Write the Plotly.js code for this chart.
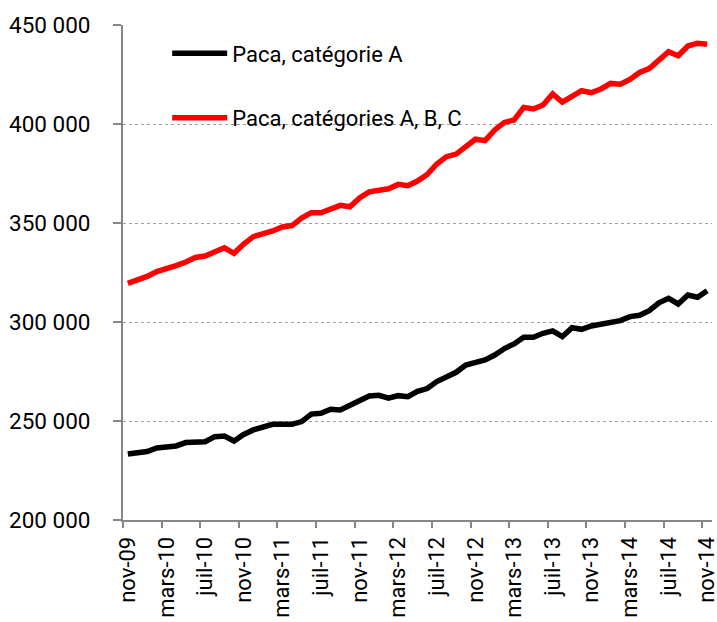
<!DOCTYPE html>
<html>
<head>
<meta charset="utf-8">
<script src="https://cdn.plot.ly/plotly-3.0.1.min.js"></script>
<style>
  html, body { margin: 0; padding: 0; background: #fff; }
  #chart { width: 717px; height: 622px; }
</style>
</head>
<body>
<div id="chart"></div>
<script>
// Months, nov-09 to nov-14
const months = [
  'nov-09', 'déc-09',
  'janv-10', 'févr-10', 'mars-10', 'avr-10', 'mai-10', 'juin-10', 'juil-10', 'août-10', 'sept-10', 'oct-10', 'nov-10', 'déc-10',
  'janv-11', 'févr-11', 'mars-11', 'avr-11', 'mai-11', 'juin-11', 'juil-11', 'août-11', 'sept-11', 'oct-11', 'nov-11', 'déc-11',
  'janv-12', 'févr-12', 'mars-12', 'avr-12', 'mai-12', 'juin-12', 'juil-12', 'août-12', 'sept-12', 'oct-12', 'nov-12', 'déc-12',
  'janv-13', 'févr-13', 'mars-13', 'avr-13', 'mai-13', 'juin-13', 'juil-13', 'août-13', 'sept-13', 'oct-13', 'nov-13', 'déc-13',
  'janv-14', 'févr-14', 'mars-14', 'avr-14', 'mai-14', 'juin-14', 'juil-14', 'août-14', 'sept-14', 'oct-14', 'nov-14'
];

// Catégorie A
const catA = [
  233300, 233800, 234600, 236400, 236600, 237400, 239100, 239500, 239500, 242100,
  242400, 239900, 243200, 245500, 247000, 248300, 248300, 248300, 249700, 253500,
  253900, 255900, 255600, 257700, 260100, 262600, 263000, 261500, 262800, 262300,
  265000, 266400, 269900, 272400, 274600, 278300, 279900, 280800, 283300, 286600,
  288900, 292300, 292300, 294300, 295500, 292600, 297100, 296300, 298000, 299000,
  299300, 300700, 302700, 303400, 305700, 309700, 312000, 309100, 313600, 312500,
  315800
];

// Catégories A, B, C
const catABC = [
  319500, 321200, 323000, 325500, 326800, 328500, 330300, 332600, 333300, 335400,
  337500, 334700, 339400, 343100, 344400, 346000, 348000, 348700, 352500, 355200,
  355200, 357300, 358900, 358200, 362600, 365700, 366200, 367300, 369500, 368800,
  371200, 374500, 379800, 383500, 384800, 388900, 392300, 391600, 397000, 400800,
  402000, 408400, 407600, 409600, 415200, 411000, 413800, 416800, 415800, 417700,
  420500, 420100, 422500, 426000, 428000, 432100, 436500, 434500, 439400, 440800,
  440300
];

const seriesNames = ['Paca, catégorie A', 'Paca, catégories A, B, C'];

const xIdx = months.map((m, i) => i);
const labelIdx = xIdx.filter(i => i % 4 === 0);

const font = "Roboto, 'Open Sans', Arial, sans-serif";
const axisGrey = '#868686';

const traces = [
  {
    x: xIdx, y: catA, mode: 'lines', name: seriesNames[0], legendgroup: 'a',
    line: {color: '#000000', width: 5.5}
  },
  {
    x: xIdx, y: catABC, mode: 'lines', name: seriesNames[1], legendgroup: 'b',
    line: {color: '#ff0000', width: 5.5}
  }
];

const layout = {
  width: 717,
  height: 622,
  margin: {l: 123, r: 5, t: 25, b: 102},
  paper_bgcolor: '#fff',
  plot_bgcolor: '#fff',
  separators: ', ',
  font: {family: font, color: '#000'},
  showlegend: true,
  legend: {
    x: 0.075, y: 0.985, xanchor: 'left', yanchor: 'top',
    bgcolor: 'rgba(0,0,0,0)',
    font: {size: 22, family: font, color: '#000'},
    traceorder: 'grouped',
    tracegroupgap: 33,
    itemwidth: 55
  },
  xaxis: {
    range: [-0.5, 60.5],
    showgrid: false,
    zeroline: false,
    showline: true,
    linecolor: axisGrey,
    linewidth: 2,
    tickmode: 'array',
    tickvals: labelIdx,
    ticktext: labelIdx.map(i => months[i]),
    ticks: '',
    tickangle: -90,
    ticklabelstandoff: 6,
    ticklabeloverflow: 'allow',
    tickfont: {size: 22, family: font, color: '#000'},
    minor: {
      tickmode: 'linear', tick0: -0.5, dtick: 4,
      ticks: 'outside', ticklen: 6, tickwidth: 2, tickcolor: axisGrey,
      showgrid: false
    },
    fixedrange: true
  },
  yaxis: {
    range: [200000, 450000],
    tickmode: 'linear', tick0: 200000, dtick: 50000,
    tickformat: ',d',
    showgrid: true,
    gridcolor: '#a0a0a0',
    griddash: 'dot',
    gridwidth: 1,
    zeroline: false,
    showline: true,
    linecolor: axisGrey,
    linewidth: 2,
    ticks: 'outside',
    ticklen: 8,
    tickwidth: 2,
    tickcolor: axisGrey,
    ticklabelstandoff: 18,
    tickfont: {size: 22.5, family: font, color: '#000'},
    fixedrange: true
  }
};

Plotly.newPlot('chart', traces, layout, {displayModeBar: false, staticPlot: true});
</script>
</body>
</html>
